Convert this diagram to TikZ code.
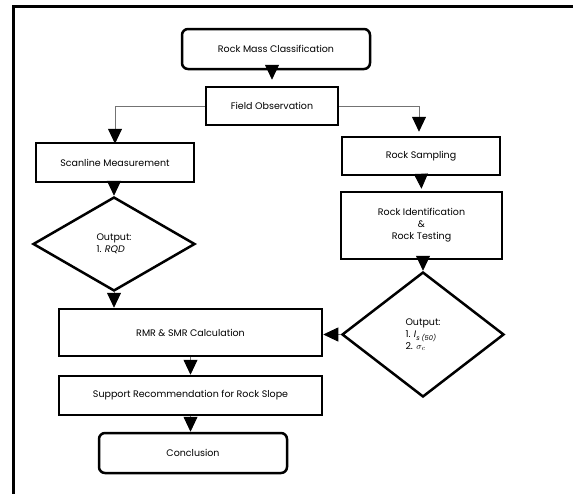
\documentclass[tikz,border=0pt]{standalone}
\usepackage{fontspec}
\setmainfont{Poppins}
\usetikzlibrary{arrows.meta,shapes.geometric}
\begin{document}
\begin{tikzpicture}[x=1pt,y=-1pt,
  font=\fontsize{9.5}{12}\selectfont,
  boxa/.style={draw=black,line width=2.5pt,inner sep=0pt,align=center},
  rbox/.style={boxa,rounded corners=6pt},
  dbox/.style={draw=black,line width=2.5pt,diamond,inner sep=0pt,align=left},
  conn/.style={draw=black!55,line width=0.8pt,-{Triangle[length=15pt,width=14pt,color=black]}}
]
\useasboundingbox (0,0) rectangle (573,493);
\fill[white] (0,0) rectangle (573,493);
\draw[line width=2.2pt] (13.5,500) -- (13.5,6.5) -- (580,6.5);

\node[rbox,minimum width=188pt,minimum height=40pt] (rmc) at (276,49) {Rock Mass Classification};
\node[boxa,minimum width=132pt,minimum height=38pt] (fo) at (272,106) {Field Observation};
\node[boxa,minimum width=158pt,minimum height=39pt] (sm) at (115,162.5) {Scanline Measurement};
\node[boxa,minimum width=158pt,minimum height=38pt] (rs) at (421,156) {Rock Sampling};
\node[boxa,minimum width=161pt,minimum height=67pt] (ri) at (421.5,225.5) {Rock Identification\\[0pt]\&\\[0pt]Rock Testing};
\node[dbox,minimum width=162pt,minimum height=94pt] (d1) at (114,244) {Output:\\1. \textit{RQD}};
\node[dbox,minimum width=162pt,minimum height=125pt] (d2) at (423,334.5) {Output:\\1. \textit{I}\textsubscript{\textit{s (50)}}\\2. $\sigma_c$};
\node[boxa,minimum width=263pt,minimum height=47pt] (rmr) at (190.5,332.5) {RMR \& SMR Calculation};
\node[boxa,minimum width=263pt,minimum height=39pt] (sr) at (190.5,395.5) {Support Recommendation for Rock Slope};
\node[rbox,minimum width=188pt,minimum height=40pt] (cc) at (193,453) {Conclusion};

\draw[conn] (rmc.south -| fo.north) -- ([yshift=6pt]fo.north);
\draw[conn] (fo.west) -| ([yshift=-2pt]sm.north);
\draw[conn] (fo.east) -| ([yshift=4pt]rs.north -| 419,0);
\draw[conn] (rs.south) -- ([yshift=2pt]ri.north);
\draw[conn] (sm.south -| d1.north) -- (d1.north);
\draw[conn] (ri.south -| d2.north) -- (d2.north);
\draw[conn] (d1.south) -- (d1.south |- rmr.north);
\draw[conn] (d2.west) -- (rmr.east |- d2.west);
\draw[conn] (rmr.south) -- (sr.north);
\draw[conn] (sr.south) -- (sr.south |- cc.north);
\end{tikzpicture}
\end{document}
